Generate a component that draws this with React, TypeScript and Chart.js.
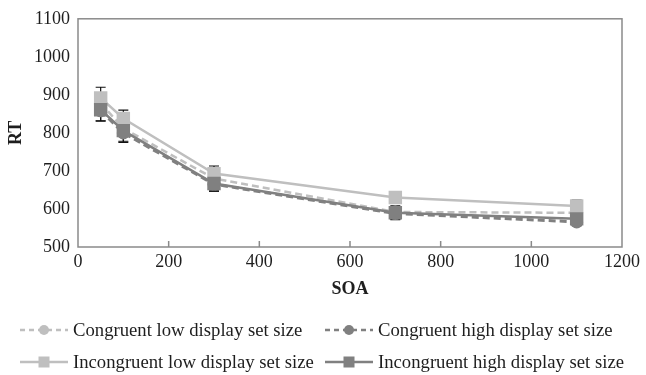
import React, { useEffect, useRef } from "react";
import { Chart, registerables } from "chart.js";

Chart.register(...registerables);

const soa = [50, 100, 300, 700, 1100];
const congruentLow = [878, 812, 680, 592, 590];
const congruentHigh = [858, 800, 665, 588, 566];
const incongruentLow = [892, 838, 693, 630, 608];
const incongruentHigh = [861, 806, 667, 590, 574];
const errCongruentLow = [24, 20, 18, 14, 14];
const errCongruentHigh = [26, 25, 18, 14, 10];
const errIncongruentLow = [28, 22, 20, 15, 15];
const errIncongruentHigh = [30, 28, 20, 18, 12];
const xTicks = [0, 200, 400, 600, 800, 1000, 1200];
const yTicks = [500, 600, 700, 800, 900, 1000, 1100];
const seriesNames = [
  "Congruent low display set size",
  "Congruent high display set size",
  "Incongruent low display set size",
  "Incongruent high display set size",
];

const LIGHT = "#bfbfbf";
const DARK = "#808080";
const AXIS = "#8a8a8a";
const TEXT = "#1e1e1e";
const FONT = "'Liberation Serif', 'Times New Roman', serif";

const errorBarPlugin = {
  id: "errorBars",
  beforeDatasetsDraw(chart: any) {
    const { ctx } = chart;
    const ys = chart.scales.y;
    ctx.save();
    ctx.strokeStyle = "#111";
    ctx.lineWidth = 1.2;
    chart.data.datasets.forEach((ds: any, i: number) => {
      const meta = chart.getDatasetMeta(i);
      meta.data.forEach((pt: any, j: number) => {
        const v = ds.data[j].y;
        const e = ds.errors[j];
        const top = ys.getPixelForValue(v + e);
        const bot = ys.getPixelForValue(v - e);
        ctx.beginPath();
        ctx.moveTo(pt.x, top);
        ctx.lineTo(pt.x, bot);
        ctx.moveTo(pt.x - 5, top);
        ctx.lineTo(pt.x + 5, top);
        ctx.moveTo(pt.x - 5, bot);
        ctx.lineTo(pt.x + 5, bot);
        ctx.stroke();
      });
    });
    ctx.restore();
  },
};

const framePlugin = {
  id: "frame",
  afterDraw(chart: any) {
    const { ctx, chartArea: a } = chart;
    const xs = chart.scales.x;
    ctx.save();
    ctx.strokeStyle = AXIS;
    ctx.lineWidth = 1.5;
    ctx.strokeRect(a.left, a.top, a.right - a.left, a.bottom - a.top);
    ctx.beginPath();
    xTicks.forEach((t) => {
      if (t === 0 || t === 1200) return;
      const px = xs.getPixelForValue(t);
      ctx.moveTo(px, a.bottom);
      ctx.lineTo(px, a.bottom - 6);
    });
    ctx.stroke();

    // legend
    const items = [
      { x: 20, y: 330, color: LIGHT, dash: [5, 4], shape: "circle", name: seriesNames[0] },
      { x: 325, y: 330, color: DARK, dash: [5, 4], shape: "circle", name: seriesNames[1] },
      { x: 20, y: 362, color: LIGHT, dash: [], shape: "square", name: seriesNames[2] },
      { x: 325, y: 362, color: DARK, dash: [], shape: "square", name: seriesNames[3] },
    ];
    items.forEach((it) => {
      ctx.strokeStyle = it.color;
      ctx.fillStyle = it.color;
      ctx.lineWidth = 2.5;
      ctx.setLineDash(it.dash);
      ctx.beginPath();
      ctx.moveTo(it.x, it.y);
      ctx.lineTo(it.x + 48, it.y);
      ctx.stroke();
      ctx.setLineDash([]);
      const cx = it.x + 24;
      if (it.shape === "circle") {
        ctx.beginPath();
        ctx.arc(cx, it.y, 5, 0, Math.PI * 2);
        ctx.fill();
      } else {
        ctx.fillRect(cx - 5.5, it.y - 5.5, 11, 11);
      }
      ctx.fillStyle = TEXT;
      ctx.font = `18.7px ${FONT}`;
      ctx.textBaseline = "middle";
      ctx.textAlign = "left";
      ctx.fillText(it.name, it.x + 53, it.y + 1);
    });
    ctx.restore();
  },
};

function mk(data: number[]) {
  return data.map((y, i) => ({ x: soa[i], y }));
}

export default function App() {
  const ref = useRef<HTMLCanvasElement | null>(null);
  useEffect(() => {
    if (!ref.current) return;
    const chart = new Chart(ref.current, {
      type: "line",
      data: {
        datasets: [
          {
            label: seriesNames[0],
            data: mk(congruentLow),
            errors: errCongruentLow,
            borderColor: LIGHT,
            backgroundColor: LIGHT,
            borderDash: [7, 4],
            borderWidth: 2.5,
            pointStyle: "circle",
            pointRadius: 6.5,
            pointBorderWidth: 0,
            order: 3,
          } as any,
          {
            label: seriesNames[1],
            data: mk(congruentHigh),
            errors: errCongruentHigh,
            borderColor: DARK,
            backgroundColor: DARK,
            borderDash: [7, 4],
            borderWidth: 3,
            pointStyle: "circle",
            pointRadius: 6.5,
            pointBorderWidth: 0,
            order: 1,
          } as any,
          {
            label: seriesNames[2],
            data: mk(incongruentLow),
            errors: errIncongruentLow,
            borderColor: LIGHT,
            backgroundColor: LIGHT,
            borderWidth: 2.5,
            pointStyle: "rect",
            pointRadius: 9.5,
            pointBorderWidth: 0,
            order: 2,
          } as any,
          {
            label: seriesNames[3],
            data: mk(incongruentHigh),
            errors: errIncongruentHigh,
            borderColor: DARK,
            backgroundColor: DARK,
            borderWidth: 2.5,
            pointStyle: "rect",
            pointRadius: 9.5,
            pointBorderWidth: 0,
            order: 0,
          } as any,
        ],
      },
      options: {
        animation: false,
        responsive: false,
        maintainAspectRatio: false,
        layout: { padding: { left: 0, right: 24, top: 18, bottom: 75 } },
        plugins: { legend: { display: false }, tooltip: { enabled: false } },
        scales: {
          x: {
            type: "linear",
            min: 0,
            max: 1200,
            afterBuildTicks: (s: any) => {
              s.ticks = xTicks.map((v) => ({ value: v }));
            },
            afterFit: (s: any) => {
              s.height = 53;
            },
            grid: { display: false, drawTicks: false },
            border: { display: false },
            ticks: {
              color: TEXT,
              font: { family: FONT, size: 18 },
              padding: 4,
              maxRotation: 0,
              callback: (v: any) => String(v),
            },
            title: {
              display: true,
              text: "SOA",
              color: TEXT,
              font: { family: FONT, size: 18, weight: "bold" },
              padding: { top: 4, bottom: 0 },
            },
          },
          y: {
            type: "linear",
            min: 500,
            max: 1100,
            afterBuildTicks: (s: any) => {
              s.ticks = yTicks.map((v) => ({ value: v }));
            },
            afterFit: (s: any) => {
              s.width = 78;
            },
            grid: { display: false, drawTicks: false },
            border: { display: false },
            ticks: {
              color: TEXT,
              font: { family: FONT, size: 18 },
              padding: 8,
              callback: (v: any) => String(v),
            },
            title: {
              display: true,
              text: "RT",
              color: TEXT,
              font: { family: FONT, size: 18, weight: "bold" },
              padding: { top: 6, bottom: 0 },
            },
          },
        },
      },
      plugins: [errorBarPlugin, framePlugin],
    } as any);
    return () => chart.destroy();
  }, []);
  return (
    <div style={{ position: "fixed", left: 0, top: 0, width: 646, height: 375, background: "#fff" }}>
      <canvas ref={ref} width={646} height={375} style={{ display: "block" }} />
    </div>
  );
}
